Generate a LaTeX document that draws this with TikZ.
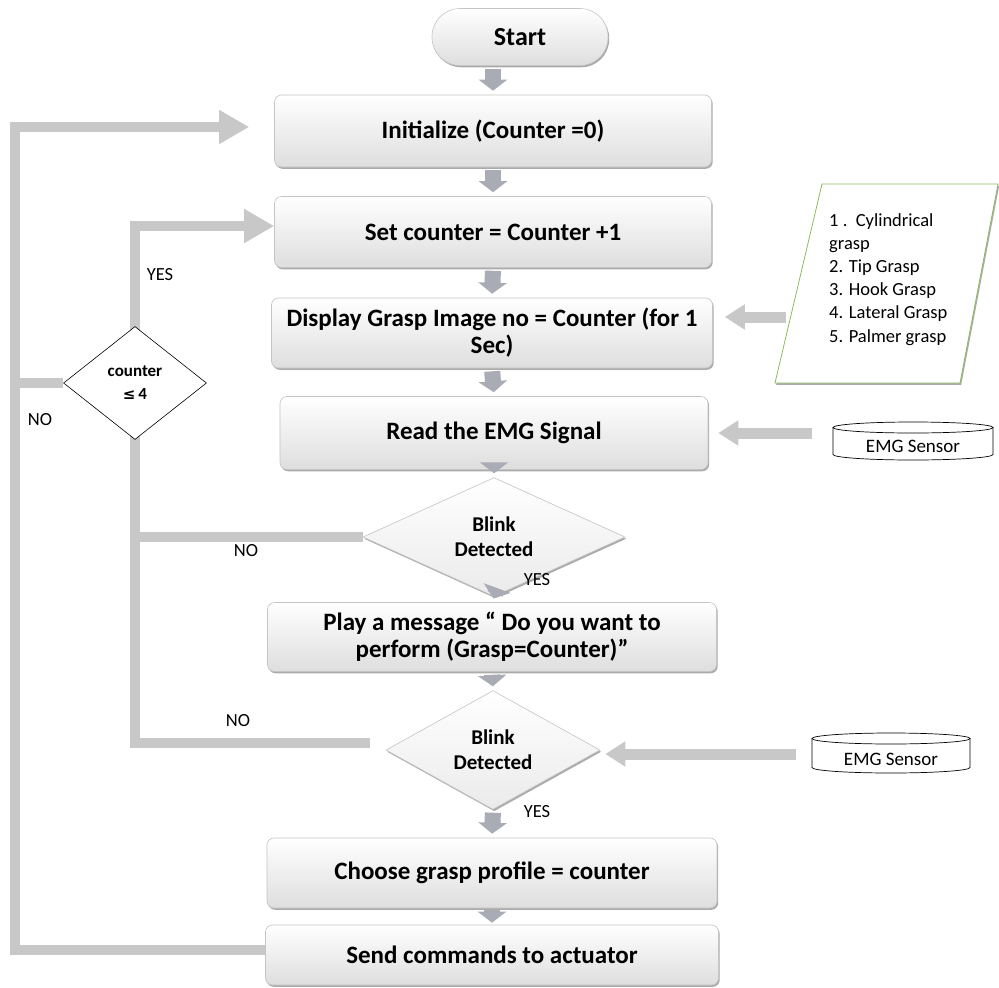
\documentclass[tikz,border=0pt]{standalone}
\usepackage{fontspec}
\setmainfont{Carlito}
\newfontfamily\symfont{DejaVu Sans}
\usetikzlibrary{arrows.meta,shadows,shapes.geometric,calc}

\definecolor{linkgray}{HTML}{C8C8C8}
\definecolor{stepgray}{HTML}{A9ACB4}
\definecolor{boxedge}{HTML}{C4C4C4}
\definecolor{paragreen}{HTML}{8CBB5E}

\pgfdeclarelayer{background}
\pgfdeclarelayer{paper}
\pgfsetlayers{paper,background,main}

\tikzset{
  softshadow/.style={drop shadow={shadow xshift=1.2pt, shadow yshift=-1.8pt, opacity=0.55, fill=black!60}},
  procbox/.style={draw=boxedge, line width=0.6pt, rounded corners=7pt,
    top color=white, bottom color=black!13, softshadow,
    font=\bfseries\fontsize{25}{27}\selectfont, align=center, inner sep=0pt},
  decide/.style={diamond, draw=boxedge, line width=0.6pt,
    top color=white, bottom color=black!8, softshadow,
    font=\bfseries\fontsize{21}{25}\selectfont, align=center, inner sep=0pt},
  link/.style={draw=linkgray, line width=10pt, line join=miter},
  loopback/.style={link, -{Triangle[length=30pt 0, width=32pt 0]}},
  sidearrow/.style={draw=linkgray, line width=11pt, -{Triangle[length=20pt 0, width=24pt 0]}},
  stepar/.style={draw=stepgray, line width=16pt, -{Triangle[length=11pt 0, width=28pt 0]},
    shorten <=3pt, shorten >=4pt},
  tag/.style={font=\fontsize{18.5}{20}\selectfont, inner sep=0pt},
  sensortext/.style={font=\fontsize{19}{21}\selectfont, inner sep=0pt,
    minimum width=160pt, minimum height=17pt},
}

\begin{document}
\begin{tikzpicture}[x=1pt,y=-1pt]
\begin{pgfonlayer}{paper}
\fill[white] (0,0) rectangle (999,988);
\end{pgfonlayer}
\useasboundingbox (0,0) rectangle (999,988);

% main column
\node[procbox, rounded corners=28pt, minimum width=176pt, minimum height=57pt,
      font=\bfseries\fontsize{26}{28}\selectfont] (start) at (520,37) {Start};
\node[procbox, minimum width=437pt, minimum height=72pt] (init) at (493,131) {Initialize (Counter =0)};
\node[procbox, minimum width=437pt, minimum height=71pt] (set) at (493,232) {Set counter = Counter +1};
\node[procbox, minimum width=441pt, minimum height=70pt] (disp) at (492,333)
  {Display Grasp Image no = Counter (for 1\\Sec)};
\node[procbox, minimum width=428pt, minimum height=73pt] (read) at (494,433) {Read the EMG Signal};
\node[decide, minimum width=262pt, minimum height=72pt] (blink1) at (494,537) {Blink\\Detected};
\node[procbox, minimum width=449pt, minimum height=69pt] (play) at (492,637)
  {Play a message “ Do you want to\\perform (Grasp=Counter)”};
\node[decide, minimum width=214pt, minimum height=94pt] (blink2) at (493,750) {Blink\\Detected};
\node[procbox, minimum width=450pt, minimum height=70pt] (choose) at (492,873) {Choose grasp profile = counter};
\node[procbox, minimum width=453pt, minimum height=60pt] (send) at (492,955) {Send commands to actuator};

% counter test
\node[diamond, draw=black, line width=0.6pt, fill=white, minimum width=143pt, minimum height=113pt,
      inner sep=0pt, align=center, font=\bfseries\fontsize{17}{23}\selectfont] (cnt) at (135,383)
  {counter\\{\symfont\fontsize{15}{17}\selectfont ≤}\,4};

% grasp list
\draw[draw=paragreen, line width=0.8pt, fill=white, softshadow]
  (822,184) -- (998,184) -- (960,383) -- (775,383) -- cycle;
\node[anchor=north west, align=left, inner sep=0pt, font=\fontsize{18.5}{23.2}\selectfont] (grasps) at (829,213)
  {1 .\ \ Cylindrical\\grasp\\2. Tip Grasp\\3. Hook Grasp\\4. Lateral Grasp\\5. Palmer grasp};
\coordinate (gleft) at (786,317);

% sensors
\node[sensortext] (emgA) at (913,446) {EMG Sensor};
\draw[fill=white, line width=0.7pt]
  ($(emgA)+(-80,-18.5)$) -- ($(emgA)+(-80,8.5)$)
  arc[start angle=180, end angle=360, x radius=80pt, y radius=5.5pt]
  -- ($(emgA)+(80,-18.5)$);
\draw[fill=white, line width=0.7pt] ($(emgA)+(0,-18.5)$) ellipse[x radius=80pt, y radius=5.5pt];
\node[sensortext] at (emgA) {EMG Sensor};

\node[sensortext] (emgB) at (891,759) {EMG Sensor};
\draw[fill=white, line width=0.7pt]
  ($(emgB)+(-79,-20.5)$) -- ($(emgB)+(-79,8.5)$)
  arc[start angle=180, end angle=360, x radius=79pt, y radius=5.5pt]
  -- ($(emgB)+(79,-20.5)$);
\draw[fill=white, line width=0.7pt] ($(emgB)+(0,-20.5)$) ellipse[x radius=79pt, y radius=5.5pt];
\node[sensortext] at (emgB) {EMG Sensor};

% step arrows down the column
\draw[stepar] (start.south -| init.north) -- (init.north);
\draw[stepar] (init.south) -- (set.north);
\draw[stepar] (set.south) -- (disp.north);
\draw[stepar] (disp.south) -- (read.north);
\draw[stepar] (read.south) -- (blink1.north);
\draw[stepar] (blink1.south) -- (play.north);
\draw[stepar] (play.south) -- (blink2.north);
\draw[stepar] (blink2.south) -- (choose.north);
\draw[stepar, shorten <=2pt, shorten >=2pt] (choose.south) -- (send.north);

% inputs from the side
\draw[sidearrow, shorten >=12pt] (gleft) -- (gleft -| disp.east);
\draw[sidearrow, shorten >=10pt] ([xshift=-21pt]emgA.west |- read.east) -- (read.east);
\draw[sidearrow, shorten >=5pt] ([xshift=-15pt,yshift=5pt]emgB.west) -- ([yshift=5pt]emgB.west -| blink2.east);

% feedback lines
\begin{pgfonlayer}{background}
\coordinate (outerx) at (15,0);
\draw[loopback, shorten >=25pt] ([yshift=5pt]send.west) -- ([yshift=5pt]send.west -| outerx)
  -- ([yshift=4pt]init.west -| outerx) -- ([yshift=4pt]init.west);
\draw[loopback] ([yshift=5pt]cnt.south) -- ([yshift=6pt]set.west -| cnt.north) -- ([yshift=6pt]set.west);
\draw[link] (cnt.west) -- (cnt.west -| outerx);
\draw[link] (blink1.west) -| ([yshift=5pt]cnt.south);
\draw[link] ([xshift=-16pt,yshift=7pt]blink2.west) -| ([yshift=5pt]cnt.south);
\end{pgfonlayer}

% branch labels
\node[tag] (yesA) at (160,275) {YES};
\node[tag] (noA) at (40,420) {NO};
\node[tag] (noB) at (246,551) {NO};
\node[tag] (yesB) at (537,580) {YES};
\node[tag] (noC) at (238,721) {NO};
\node[tag] (yesC) at (537,812) {YES};
\end{tikzpicture}
\end{document}
